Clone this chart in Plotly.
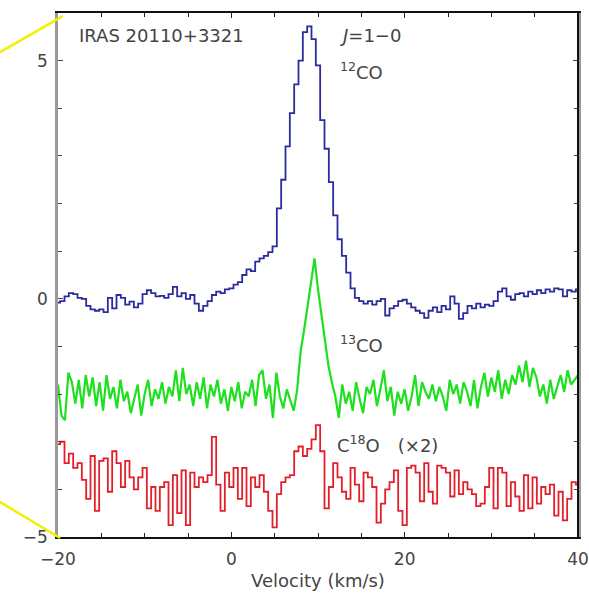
import numpy as np
import plotly.graph_objects as go

# Channel grids (km/s)
V12_START, V12_STEP = -20.0, 0.5
V13_START, V13_STEP = -20.0, 0.4
V18_START, V18_STEP = -20.0, 0.5

# 12CO J=1-0 antenna temperature (K)
t_12co = [
    -0.08, -0.05, 0.05, 0.12, 0.10, 0.02, 0.00, -0.15, -0.22, -0.25,
    -0.22, -0.28, 0.02, -0.20, 0.08, 0.02, -0.12, -0.06, -0.18, -0.10,
    0.10, 0.18, 0.12, 0.05, 0.06, 0.02, 0.10, 0.25, 0.05, 0.12,
    0.00, 0.08, -0.10, -0.25, -0.15, -0.05, 0.08, 0.15, 0.12, 0.20,
    0.22, 0.30, 0.35, 0.50, 0.62, 0.58, 0.78, 0.85, 0.90, 0.98,
    1.10, 1.90, 2.50, 3.20, 3.90, 4.50, 5.00, 5.60, 5.72, 5.45,
    4.90, 3.75, 3.15, 2.45, 1.75, 1.25, 0.90, 0.55, 0.22, 0.02,
    -0.05, -0.10, -0.05, -0.12, -0.05, 0.00, -0.35, -0.20, -0.15, -0.05,
    -0.02, -0.10, -0.18, -0.25, -0.30, -0.40, -0.25, -0.18, -0.28, -0.15,
    -0.22, 0.05, -0.10, -0.42, -0.30, -0.15, -0.20, -0.10, -0.18, -0.12,
    -0.15, -0.05, 0.15, 0.22, 0.05, -0.02, 0.10, 0.12, 0.05, 0.15,
    0.10, 0.18, 0.12, 0.20, 0.15, 0.22, 0.20, 0.05, 0.18, 0.15,
    0.20,
]

# 13CO J=1-0, offset for display
t_13co = [
    -1.80, -2.45, -2.55, -1.55, -1.75, -2.20, -1.70, -2.30, -1.60, -2.05,
    -1.65, -2.25, -1.75, -2.35, -1.60, -2.10, -1.85, -2.30, -1.70, -2.15,
    -1.95, -2.40, -2.10, -1.80, -2.45, -2.00, -1.70, -2.25, -1.90, -2.10,
    -1.75, -2.20, -1.85, -2.05, -1.50, -2.15, -1.45, -2.00, -1.80, -2.25,
    -1.75, -2.10, -1.65, -2.30, -1.80, -2.05, -1.70, -2.20, -1.90, -2.35,
    -1.85, -2.15, -1.75, -2.30, -1.95, -2.05, -1.70, -2.25, -1.60, -1.50,
    -2.10, -1.80, -2.50, -1.55, -2.05, -2.30, -1.90, -2.15, -2.35, -1.90,
    -1.10, -0.65, -0.15, 0.40, 0.85, 0.20, -0.35, -0.90, -1.40, -1.75,
    -2.05, -2.50, -1.80, -2.20, -1.95, -2.35, -1.75, -2.10, -2.40, -1.85,
    -2.00, -1.70, -2.25, -1.90, -1.50, -2.15, -1.85, -2.45, -1.95, -2.20,
    -1.90, -2.35, -2.05, -1.60, -2.25, -1.75, -1.95, -2.10, -1.80, -2.15,
    -1.85, -2.05, -2.35, -1.70, -2.00, -1.80, -2.20, -1.75, -1.95, -2.25,
    -1.70, -2.30, -1.85, -1.55, -2.05, -1.65, -1.95, -1.50, -2.10, -1.70,
    -2.00, -1.60, -1.80, -1.40, -1.75, -1.30, -1.85, -1.45, -1.65, -2.05,
    -1.80, -2.20, -1.70, -2.10, -1.85, -1.60, -1.95, -1.50, -1.80, -1.70,
    -1.60,
]

# C18O J=1-0 (scaled x2), offset for display
t_c18o = [
    -3.05, -3.00, -3.45, -3.25, -3.55, -3.45, -3.80, -4.20, -3.30, -4.45,
    -3.40, -3.35, -4.05, -3.20, -3.45, -3.95, -3.40, -3.75, -4.00, -3.75,
    -3.55, -4.40, -3.95, -4.45, -3.95, -3.85, -4.75, -3.70, -4.50, -3.60,
    -4.75, -3.65, -3.95, -3.75, -3.85, -3.70, -2.90, -3.90, -4.45, -3.65,
    -3.95, -3.55, -4.20, -3.55, -4.35, -3.75, -3.95, -3.70, -4.05, -4.45,
    -4.80, -4.10, -3.85, -3.75, -3.70, -3.20, -3.10, -3.30, -3.15, -2.95,
    -2.65, -3.20, -4.40, -3.95, -3.45, -3.75, -4.05, -4.20, -3.55, -3.90,
    -4.25, -3.65, -3.75, -3.95, -4.70, -4.30, -4.00, -3.85, -3.60, -4.45,
    -4.75, -3.55, -3.50, -3.65, -4.25, -3.45, -4.05, -4.30, -3.50, -3.55,
    -3.65, -4.15, -3.60, -4.10, -3.85, -4.00, -4.10, -4.35, -4.30, -3.95,
    -3.55, -4.40, -3.55, -3.65, -4.35, -3.85, -4.15, -4.45, -3.70, -4.40,
    -3.75, -4.30, -3.95, -4.10, -3.90, -4.55, -4.05, -4.65, -4.20, -3.85,
    -3.90,
]

x_ticks = [-20, 0, 20, 40]
y_ticks = [-5, 0, 5]


def channels(start, step, n):
    return start + step * np.arange(n)


v12 = channels(V12_START, V12_STEP, len(t_12co))
v13 = channels(V13_START, V13_STEP, len(t_13co))
v18 = channels(V18_START, V18_STEP, len(t_c18o))

FONT = "DejaVu Sans, Verdana, sans-serif"
TXT = "#444444"

fig = go.Figure()
for v, t, col, shape, w in [
    (v12, t_12co, "#2b2b9e", "hvh", 1.8),
    (v13, t_13co, "#1fe01f", "linear", 2.2),
    (v18, t_c18o, "#e3202a", "hvh", 1.8),
]:
    fig.add_trace(go.Scatter(
        x=v, y=t, mode="lines",
        line=dict(color=col, width=w, shape=shape),
        hoverinfo="skip", showlegend=False,
    ))

labels = [
    (-17.8, 5.52, "IRAS 20110+3321"),
    (12.3, 5.52, "<i>J</i>=1\u22120"),
    (12.3, 4.78, "<sup>12</sup>CO"),
    (12.3, -0.95, "<sup>13</sup>CO"),
    (12.0, -3.05, "C<sup>18</sup>O\u2003(\u00d72)"),
]
for x, y, s in labels:
    fig.add_annotation(x=x, y=y, text=s, showarrow=False, xanchor="left",
                       yanchor="middle", font=dict(family=FONT, size=18, color=TXT))

# right frame edge
fig.add_shape(type="line", xref="paper", yref="paper", x0=1, x1=1, y0=0, y1=1,
              line=dict(color="#111111", width=2))
# yellow zoom guides
fig.add_shape(type="line", xref="paper", yref="paper", x0=-0.112, y0=0.925,
              x1=0.009, y1=0.994, line=dict(color="#f2f000", width=2.5))
fig.add_shape(type="line", xref="paper", yref="paper", x0=-0.112, y0=0.067,
              x1=0.004, y1=-0.002, line=dict(color="#f2f000", width=2.5))

fig.update_layout(
    width=589, height=595,
    margin=dict(l=58, r=11, t=13, b=58, autoexpand=False),
    paper_bgcolor="white", plot_bgcolor="white",
    font=dict(family=FONT, size=17, color=TXT),
    xaxis=dict(
        range=[-20, 40], tickvals=x_ticks, ticks="inside", ticklen=5,
        tickcolor="#222", showline=True, linecolor="#111", linewidth=2,
        mirror="ticks", showgrid=False, zeroline=False, automargin=False,
        ticklabelstandoff=6,
        minor=dict(dtick=5, tick0=0, ticks="inside", ticklen=4, tickcolor="#222"),
        title=dict(text="Velocity (km/s)", standoff=6,
                   font=dict(family=FONT, size=18, color=TXT)),
        tickfont=dict(family=FONT, size=17, color=TXT),
    ),
    yaxis=dict(
        range=[-5, 6], tickvals=y_ticks, ticks="inside", ticklen=5,
        tickcolor="#444", showline=True, linecolor="#999", linewidth=2.5,
        mirror="ticks", showgrid=False, zeroline=False, automargin=False,
        ticklabelstandoff=4,
        minor=dict(dtick=1, tick0=0, ticks="inside", ticklen=4, tickcolor="#444"),
        tickfont=dict(family=FONT, size=17, color=TXT),
    ),
)

fig.write_html("out.html")
